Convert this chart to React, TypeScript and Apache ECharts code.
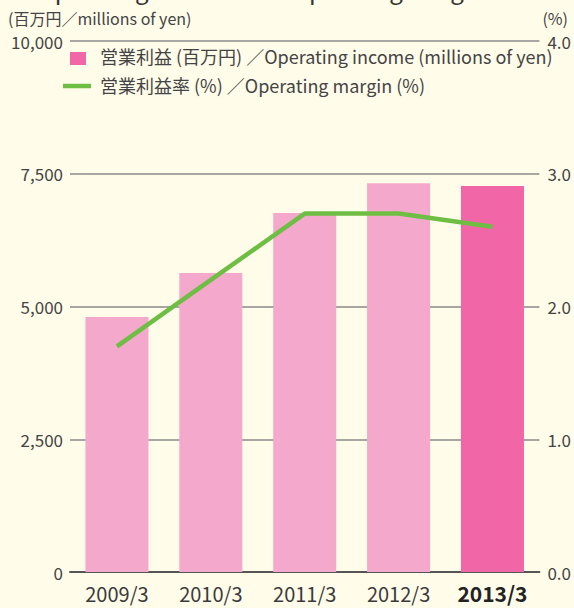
import React, { useEffect, useRef } from "react";
import * as echarts from "echarts";

const categories = ["2009/3", "2010/3", "2011/3", "2012/3", "2013/3"];
const operatingIncome = [4800, 5630, 6760, 7320, 7270];
const operatingMargin = [1.7, 2.2, 2.7, 2.7, 2.6];
const leftTicks = { min: 0, max: 10000, interval: 2500 };
const rightTicks = { min: 0, max: 4, interval: 1 };

const FONT = "'Noto Sans CJK JP', 'Noto Sans', sans-serif";
const BG = "#fffcea";
const PINK_LIGHT = "#f4a8cc";
const PINK_DARK = "#f066a6";
const GREEN = "#6fbe44";

export default function App() {
  const ref = useRef<HTMLDivElement>(null);
  useEffect(() => {
    document.body.style.margin = "0";
    document.body.style.background = BG;
    const chart = echarts.init(ref.current!, null, { renderer: "svg" });
    chart.setOption({
      animation: false,
      backgroundColor: BG,
      textStyle: { fontFamily: FONT },
      grid: { left: 70, right: 34, top: 41, bottom: 36, containLabel: false },
      xAxis: {
        type: "category",
        data: categories,
        axisLine: { lineStyle: { color: "#555", width: 2 } },
        axisTick: { show: false },
        axisLabel: {
          interval: 0,
          margin: 10,
          fontSize: 20,
          lineHeight: 22,
          color: "#3a3a3a",
          fontFamily: FONT,
          formatter: (v: string, i: number) =>
            i === categories.length - 1 ? `{b|${v}}` : v,
          rich: {
            b: { fontSize: 21, lineHeight: 22, fontWeight: "bold", color: "#222", fontFamily: FONT },
          },
        },
      },
      yAxis: [
        {
          type: "value",
          min: leftTicks.min,
          max: leftTicks.max,
          interval: leftTicks.interval,
          axisLine: { show: false },
          axisTick: { show: false },
          splitLine: { lineStyle: { color: "#8a8a8a", width: 1.5 } },
          axisLabel: {
            margin: 7,
            fontSize: 17,
            color: "#444",
            fontFamily: FONT,
            formatter: (v: number) => v.toLocaleString("en-US"),
          },
        },
        {
          type: "value",
          min: rightTicks.min,
          max: rightTicks.max,
          interval: rightTicks.interval,
          axisLine: { show: false },
          axisTick: { show: false },
          splitLine: { show: false },
          axisLabel: {
            margin: 8,
            fontSize: 17,
            color: "#444",
            fontFamily: FONT,
            formatter: (v: number) => v.toFixed(1),
          },
        },
      ],
      series: [
        {
          name: "営業利益 (百万円) ／Operating income (millions of yen)",
          type: "bar",
          data: operatingIncome.map((v, i) => ({
            value: v,
            itemStyle: { color: i === operatingIncome.length - 1 ? PINK_DARK : PINK_LIGHT },
          })),
          barWidth: 63,
          z: 2,
        },
        {
          name: "営業利益率 (%) ／Operating margin (%)",
          type: "line",
          yAxisIndex: 1,
          data: operatingMargin,
          symbol: "none",
          lineStyle: { color: GREEN, width: 4.5 },
          z: 5,
        },
      ],
      graphic: [
        {
          type: "text",
          left: 37,
          top: -24,
          style: {
            text: "Operating Income and Operating Margin",
            fontSize: 24,
            fill: "#333",
            fontFamily: FONT,
          },
        },
        {
          type: "text",
          left: 8,
          top: 10,
          style: {
            text: "(百万円／millions of yen)",
            fontSize: 16,
            fill: "#444",
            fontFamily: FONT,
          },
        },
        {
          type: "text",
          right: 6,
          top: 10,
          style: { text: "(%)", fontSize: 16, fill: "#444", fontFamily: FONT },
        },
        {
          type: "rect",
          shape: { x: 70, y: 52, width: 16, height: 13 },
          style: { fill: PINK_DARK },
        },
        {
          type: "text",
          left: 100,
          top: 47,
          style: {
            text: "営業利益 (百万円) ／Operating income (millions of yen)",
            fontSize: 18,
            fill: "#444",
            fontFamily: FONT,
          },
        },
        {
          type: "line",
          shape: { x1: 63, y1: 86, x2: 91, y2: 86 },
          style: { stroke: GREEN, lineWidth: 4.5 },
        },
        {
          type: "text",
          left: 100,
          top: 76,
          style: {
            text: "営業利益率 (%) ／Operating margin (%)",
            fontSize: 18,
            fill: "#444",
            fontFamily: FONT,
          },
        },
      ],
    });
    return () => chart.dispose();
  }, []);
  return <div ref={ref} style={{ width: 574, height: 608, background: BG }} />;
}
